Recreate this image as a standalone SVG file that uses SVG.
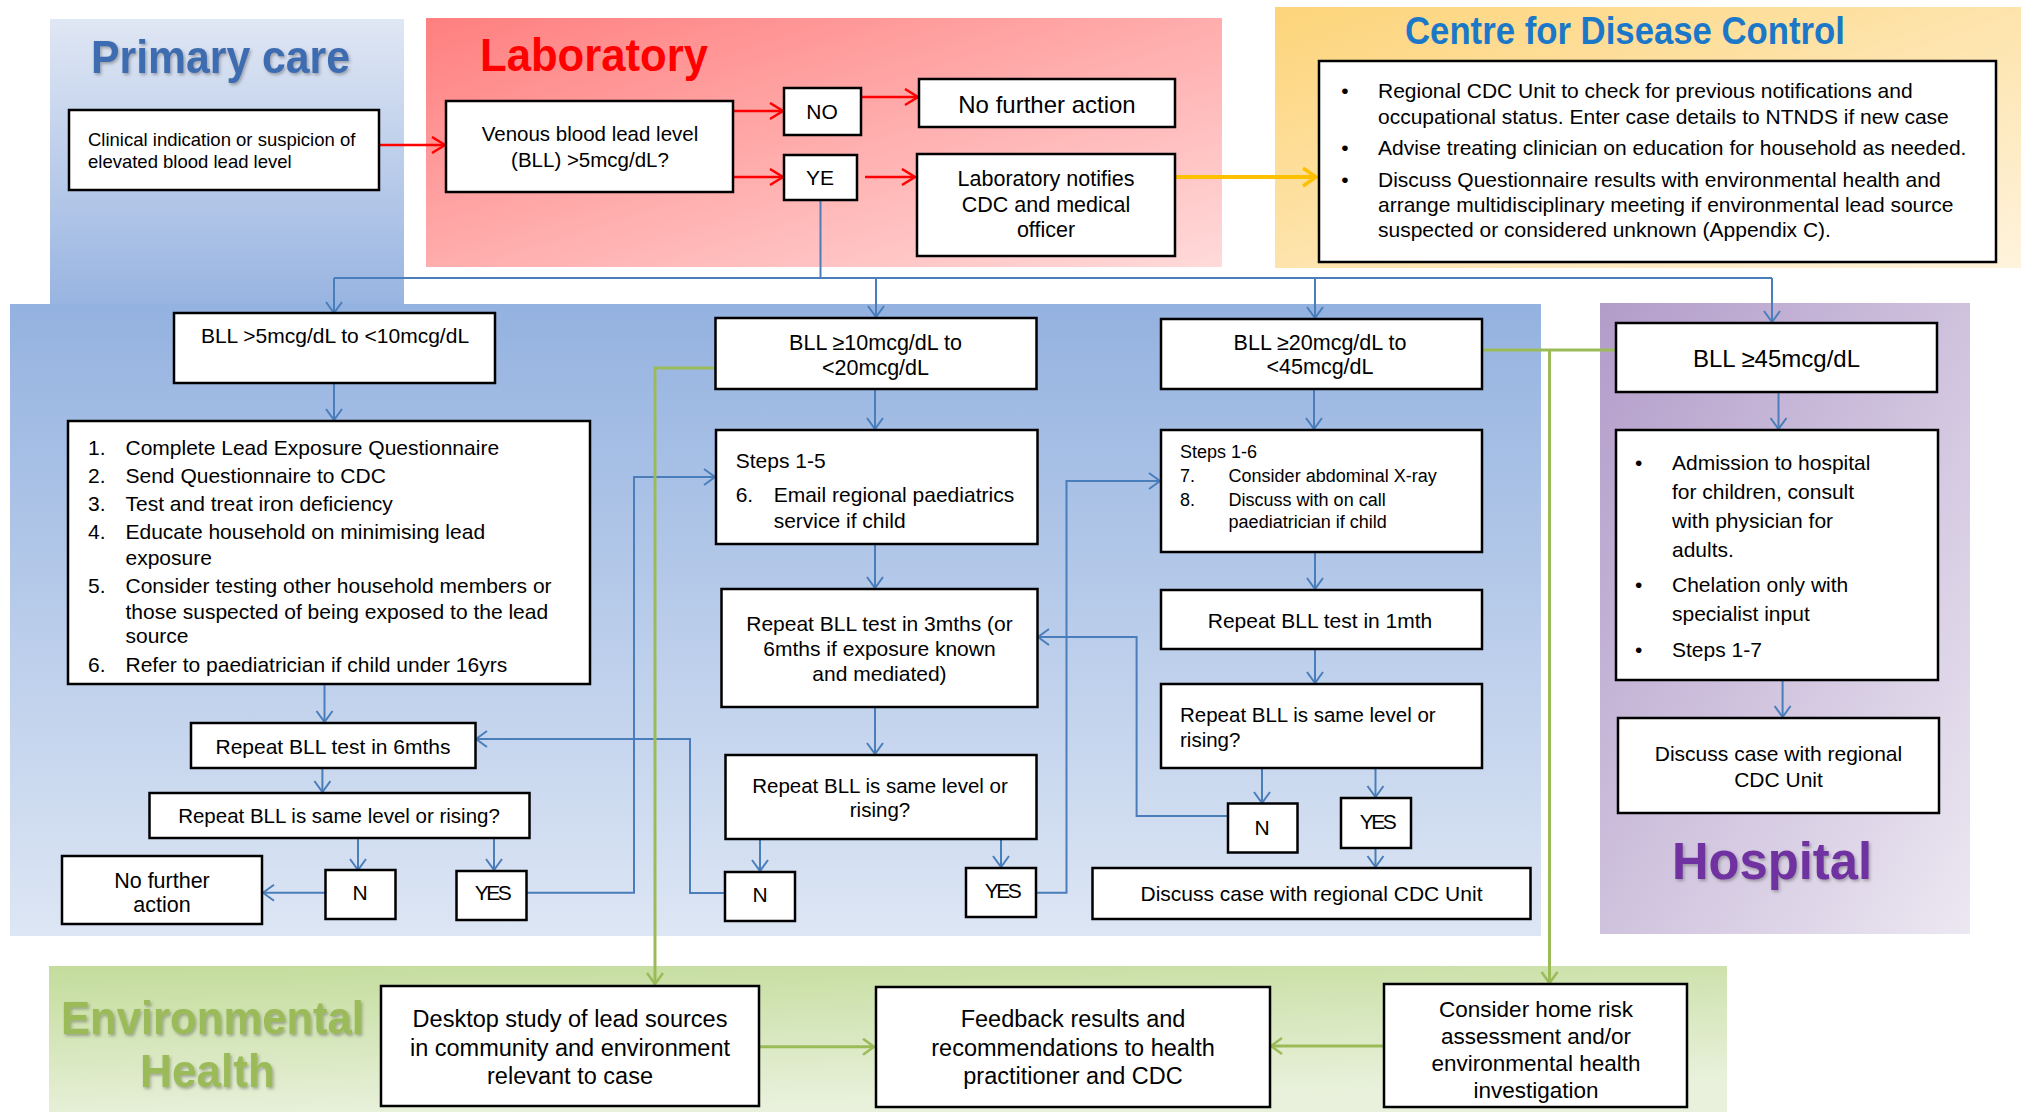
<svg xmlns="http://www.w3.org/2000/svg" width="2025" height="1112" viewBox="0 0 2025 1112">
<defs>
<linearGradient id="gPrim" x1="0" y1="0" x2="0" y2="1"><stop offset="0" stop-color="#e0e7f4"/><stop offset="1" stop-color="#98b4e1"/></linearGradient>
<linearGradient id="gLab" x1="0" y1="0" x2="1" y2="1"><stop offset="0" stop-color="#ff7f7f"/><stop offset="1" stop-color="#ffdada"/></linearGradient>
<linearGradient id="gCdc" x1="0" y1="0" x2="1" y2="1"><stop offset="0" stop-color="#fdd47a"/><stop offset="1" stop-color="#fef3dd"/></linearGradient>
<linearGradient id="gBlue" x1="0" y1="0" x2="0" y2="1"><stop offset="0" stop-color="#94b2e0"/><stop offset="1" stop-color="#dde6f4"/></linearGradient>
<linearGradient id="gHosp" x1="0" y1="0" x2="1" y2="1"><stop offset="0" stop-color="#b29cc9"/><stop offset="1" stop-color="#ece8f2"/></linearGradient>
<linearGradient id="gEnv" x1="0" y1="0" x2="0.3" y2="1"><stop offset="0" stop-color="#c3dc9b"/><stop offset="1" stop-color="#e9f1dc"/></linearGradient>
<filter id="sh" x="-10%" y="-20%" width="120%" height="150%"><feDropShadow dx="1.5" dy="2" stdDeviation="1.5" flood-color="#555" flood-opacity="0.45"/></filter>
<marker id="aB" markerUnits="userSpaceOnUse" markerWidth="16" markerHeight="20" refX="12" refY="9" orient="auto"><path d="M1,1 L12,9 L1,17" fill="none" stroke="#4a7ebb" stroke-width="2"/></marker>
<marker id="aR" markerUnits="userSpaceOnUse" markerWidth="18" markerHeight="20" refX="14" refY="9" orient="auto"><path d="M1,1 L14,9 L1,17" fill="none" stroke="#ff0000" stroke-width="2.5"/></marker>
<marker id="aY" markerUnits="userSpaceOnUse" markerWidth="18" markerHeight="22" refX="14" refY="10" orient="auto"><path d="M1,1 L14,10 L1,19" fill="none" stroke="#ffc000" stroke-width="3.5"/></marker>
<marker id="aG" markerUnits="userSpaceOnUse" markerWidth="16" markerHeight="20" refX="12" refY="9" orient="auto"><path d="M1,1 L12,9 L1,17" fill="none" stroke="#9bbb59" stroke-width="2.5"/></marker>
</defs>
<style>
.box{fill:#fff;stroke:#000;stroke-width:2.5}
text{font-family:"Liberation Sans",Arial,sans-serif;fill:#000}
.c{text-anchor:middle}
.f21{font-size:21px}
.f20{font-size:20.5px}
.f18{font-size:18px}
.f24{font-size:24px}
.ttl{font-weight:bold}
.bl{fill:none;stroke:#4a7ebb;stroke-width:2}
.rd{fill:none;stroke:#ff0000;stroke-width:2.5}
.gr{fill:none;stroke:#9bbb59;stroke-width:3}
.yes{font-size:21px;letter-spacing:-2.5px}
</style>
<rect width="2025" height="1112" fill="#fff"/>
<g id="panels">
<rect x="50" y="19" width="354" height="286" fill="url(#gPrim)"/>
<rect x="426" y="18" width="796" height="249" fill="url(#gLab)"/>
<rect x="1275" y="7" width="746" height="261" fill="url(#gCdc)"/>
<rect x="10" y="304" width="1531" height="632" fill="url(#gBlue)"/>
<rect x="1600" y="303" width="370" height="631" fill="url(#gHosp)"/>
<rect x="49" y="966" width="1678" height="146" fill="url(#gEnv)"/>
<text x="91" y="73" class="ttl" font-size="47" textLength="259" lengthAdjust="spacingAndGlyphs" filter="url(#sh)" style="fill:#3d6cb0">Primary care</text>
<text x="480" y="71" class="ttl" font-size="46" textLength="228" lengthAdjust="spacingAndGlyphs" style="fill:#ff0000">Laboratory</text>
<text x="1405" y="44" class="ttl" font-size="38" textLength="440" lengthAdjust="spacingAndGlyphs" style="fill:#1b78c8">Centre for Disease Control</text>
<text x="1672" y="879" class="ttl" font-size="51" textLength="200" lengthAdjust="spacingAndGlyphs" filter="url(#sh)" style="fill:#7030a0">Hospital</text>
<text x="61" y="1034" class="ttl" font-size="46" textLength="303" lengthAdjust="spacingAndGlyphs" filter="url(#sh)" style="fill:#9bbb59">Environmental</text>
<text x="140" y="1087" class="ttl" font-size="46" textLength="135" lengthAdjust="spacingAndGlyphs" filter="url(#sh)" style="fill:#9bbb59">Health</text>
</g>
<g id="connectors">
<path class="rd" d="M379,145 H445" marker-end="url(#aR)"/>
<path class="rd" d="M733,111 H783" marker-end="url(#aR)"/>
<path class="rd" d="M733,177 H783" marker-end="url(#aR)"/>
<path class="rd" d="M861,97 H918" marker-end="url(#aR)"/>
<path class="rd" d="M865,177 H915" marker-end="url(#aR)"/>
<path d="M1175,177 H1316" fill="none" stroke="#ffc000" stroke-width="4" marker-end="url(#aY)"/>
<path class="bl" d="M820.5,200 V278"/>
<path class="bl" d="M334,278 H1772"/>
<path class="bl" d="M334,278 V313" marker-end="url(#aB)"/>
<path class="bl" d="M876,278 V317" marker-end="url(#aB)"/>
<path class="bl" d="M1315,278 V318" marker-end="url(#aB)"/>
<path class="bl" d="M1772,278 V322" marker-end="url(#aB)"/>
<path class="bl" d="M334,383 V420" marker-end="url(#aB)"/>
<path class="bl" d="M324.5,684 V722" marker-end="url(#aB)"/>
<path class="bl" d="M322.4,768 V792" marker-end="url(#aB)"/>
<path class="bl" d="M358,838 V870" marker-end="url(#aB)"/>
<path class="bl" d="M494,838 V870" marker-end="url(#aB)"/>
<path class="bl" d="M325.5,892.7 H263" marker-end="url(#aB)"/>
<path class="bl" d="M526.5,892.7 H634 V477 H715" marker-end="url(#aB)"/>
<path class="bl" d="M725,893 H690 V739 H476" marker-end="url(#aB)"/>
<path class="bl" d="M875,389 V429" marker-end="url(#aB)"/>
<path class="bl" d="M875,544 V588" marker-end="url(#aB)"/>
<path class="bl" d="M875,706.7 V754" marker-end="url(#aB)"/>
<path class="bl" d="M760,839 V871" marker-end="url(#aB)"/>
<path class="bl" d="M1001,839 V867" marker-end="url(#aB)"/>
<path class="bl" d="M1036,892.7 H1066.5 V481 H1160" marker-end="url(#aB)"/>
<path class="bl" d="M1227,816 H1136.6 V637 H1038" marker-end="url(#aB)"/>
<path class="bl" d="M1314,389 V429" marker-end="url(#aB)"/>
<path class="bl" d="M1315,552 V589" marker-end="url(#aB)"/>
<path class="bl" d="M1315,648.6 V683" marker-end="url(#aB)"/>
<path class="bl" d="M1262,768 V803" marker-end="url(#aB)"/>
<path class="bl" d="M1375.5,768 V797" marker-end="url(#aB)"/>
<path class="bl" d="M1375.5,848 V867" marker-end="url(#aB)"/>
<path class="bl" d="M1778.5,392 V429" marker-end="url(#aB)"/>
<path class="bl" d="M1782.6,680 V717" marker-end="url(#aB)"/>
<path class="gr" d="M715,368 H655 V984" marker-end="url(#aG)"/>
<path class="gr" d="M1482,350 H1616"/>
<path class="gr" d="M1549.5,350 V983" marker-end="url(#aG)"/>
<path class="gr" d="M759,1046.7 H874" marker-end="url(#aG)"/>
<path class="gr" d="M1384,1046 H1271" marker-end="url(#aG)"/>
</g>
<g id="n-clinical"><rect class="box" x="69" y="110" width="310" height="80"/>
<text x="88" y="146" font-size="18.5">Clinical indication or suspicion of</text>
<text x="88" y="168" font-size="18.5">elevated blood lead level</text></g>
<g id="n-venous"><rect class="box" x="446" y="101" width="287" height="91"/>
<text x="590" y="141" class="c f20">Venous blood lead level</text>
<text x="590" y="167" class="c f20">(BLL) &gt;5mcg/dL?</text></g>
<g id="n-no"><rect class="box" x="784" y="88" width="77" height="47"/>
<text x="822" y="119" class="c f21">NO</text></g>
<g id="n-ye"><rect class="box" x="784" y="155" width="73" height="45"/>
<text x="820" y="185" class="c f21">YE</text></g>
<g id="n-nfa-lab"><rect class="box" x="919" y="79" width="256" height="48"/>
<text x="1047" y="113" class="c f24">No further action</text></g>
<g id="n-labnotify"><rect class="box" x="917" y="154" width="258" height="102"/>
<text x="1046" y="186" class="c" font-size="21.5">Laboratory notifies</text>
<text x="1046" y="212" class="c" font-size="21.5">CDC and medical</text>
<text x="1046" y="237" class="c" font-size="21.5">officer</text></g>
<g id="n-cdc"><rect class="box" x="1319" y="61" width="677" height="201"/>
<g class="f21">
<text x="1345" y="98" class="c">•</text><text x="1378" y="98">Regional CDC Unit to check for previous notifications and</text>
<text x="1378" y="124">occupational status. Enter case details to NTNDS if new case</text>
<text x="1345" y="155" class="c">•</text><text x="1378" y="155">Advise treating clinician on education for household as needed.</text>
<text x="1345" y="187" class="c">•</text><text x="1378" y="187">Discuss Questionnaire results with environmental health and</text>
<text x="1378" y="212">arrange multidisciplinary meeting if environmental lead source</text>
<text x="1378" y="237">suspected or considered unknown (Appendix C).</text></g></g>
<g id="n-bll5"><rect class="box" x="174" y="313" width="321" height="70"/>
<text x="335" y="343" class="c f21">BLL &gt;5mcg/dL to &lt;10mcg/dL</text></g>
<g id="n-steps16"><rect class="box" x="68" y="421" width="522" height="263"/>
<g class="f21">
<text x="88" y="455">1.</text><text x="125.5" y="455">Complete Lead Exposure Questionnaire</text>
<text x="88" y="483">2.</text><text x="125.5" y="483">Send Questionnaire to CDC</text>
<text x="88" y="511">3.</text><text x="125.5" y="511">Test and treat iron deficiency</text>
<text x="88" y="539">4.</text><text x="125.5" y="539">Educate household on minimising lead</text>
<text x="125.5" y="565">exposure</text>
<text x="88" y="593">5.</text><text x="125.5" y="593">Consider testing other household members or</text>
<text x="125.5" y="619">those suspected of being exposed to the lead</text>
<text x="125.5" y="643">source</text>
<text x="88" y="672">6.</text><text x="125.5" y="672">Refer to paediatrician if child under 16yrs</text></g></g>
<g id="n-rep6"><rect class="box" x="191" y="723" width="284.5" height="45"/>
<text x="333" y="754" class="c f21">Repeat BLL test in 6mths</text></g>
<g id="n-rise1"><rect class="box" x="149.5" y="793" width="380" height="45"/>
<text x="339" y="823" class="c f20">Repeat BLL is same level or rising?</text></g>
<g id="n-nfa1"><rect class="box" x="62" y="856" width="200" height="68"/>
<text x="162" y="888" class="c" font-size="21.5">No further</text>
<text x="162" y="912" class="c" font-size="21.5">action</text></g>
<g id="n-n1"><rect class="box" x="325.5" y="870" width="70" height="49"/>
<text x="360" y="900" class="c f21">N</text></g>
<g id="n-yes1"><rect class="box" x="456.5" y="871" width="70" height="49"/>
<text x="492" y="900" class="c yes">YES</text></g>
<g id="n-bll10"><rect class="box" x="715.5" y="318" width="321" height="71"/>
<text x="875.5" y="350" class="c" font-size="21.5">BLL ≥10mcg/dL to</text>
<text x="875.5" y="375" class="c" font-size="21.5">&lt;20mcg/dL</text></g>
<g id="n-steps15"><rect class="box" x="716" y="430" width="321.5" height="114"/>
<g class="f21">
<text x="735.7" y="468">Steps 1-5</text>
<text x="735.7" y="502">6.</text><text x="773.7" y="502">Email regional paediatrics</text>
<text x="773.7" y="528">service if child</text></g></g>
<g id="n-rep3"><rect class="box" x="721.5" y="589" width="316" height="118"/>
<text x="879.5" y="631" class="c f21">Repeat BLL test in 3mths (or</text>
<text x="879.5" y="656" class="c f21">6mths if exposure known</text>
<text x="879.5" y="681" class="c f21">and mediated)</text></g>
<g id="n-rise2"><rect class="box" x="725.5" y="755" width="311" height="84"/>
<text x="880" y="793" class="c f20">Repeat BLL is same level or</text>
<text x="880" y="817" class="c f20">rising?</text></g>
<g id="n-n2"><rect class="box" x="725" y="872" width="70" height="49"/>
<text x="760" y="902" class="c f21">N</text></g>
<g id="n-yes2"><rect class="box" x="966" y="868" width="70" height="49"/>
<text x="1002" y="898" class="c yes">YES</text></g>
<g id="n-bll20"><rect class="box" x="1161" y="319" width="321" height="70"/>
<text x="1320" y="350" class="c" font-size="21.5">BLL ≥20mcg/dL to</text>
<text x="1320" y="374" class="c" font-size="21.5">&lt;45mcg/dL</text></g>
<g id="n-steps18"><rect class="box" x="1161" y="430" width="321" height="122"/>
<g class="f18">
<text x="1180" y="457.5">Steps 1-6</text>
<text x="1180" y="481.5">7.</text><text x="1228.6" y="481.5">Consider abdominal X-ray</text>
<text x="1180" y="505.5">8.</text><text x="1228.6" y="505.5">Discuss with on call</text>
<text x="1228.6" y="528">paediatrician if child</text></g></g>
<g id="n-rep1"><rect class="box" x="1161" y="590" width="321" height="59"/>
<text x="1320" y="628" class="c f21">Repeat BLL test in 1mth</text></g>
<g id="n-rise3"><rect class="box" x="1161" y="684" width="321" height="84"/>
<text x="1180" y="722" class="f20">Repeat BLL is same level or</text>
<text x="1180" y="747" class="f20">rising?</text></g>
<g id="n-n3"><rect class="box" x="1228" y="803.5" width="69.5" height="49"/>
<text x="1262" y="835" class="c f21">N</text></g>
<g id="n-yes3"><rect class="box" x="1341" y="798" width="70" height="50"/>
<text x="1377" y="829" class="c yes">YES</text></g>
<g id="n-discuss3"><rect class="box" x="1092.5" y="868" width="438" height="51"/>
<text x="1311.5" y="901" class="c f21">Discuss case with regional CDC Unit</text></g>
<g id="n-bll45"><rect class="box" x="1616" y="323" width="321" height="69"/>
<text x="1776.5" y="367" class="c f24">BLL ≥45mcg/dL</text></g>
<g id="n-hosplist"><rect class="box" x="1616" y="430" width="322" height="250"/>
<g class="f21">
<text x="1638.6" y="470" class="c">•</text><text x="1672" y="470">Admission to hospital</text>
<text x="1672" y="499">for children, consult</text>
<text x="1672" y="528">with physician for</text>
<text x="1672" y="557">adults.</text>
<text x="1638.6" y="592" class="c">•</text><text x="1672" y="592">Chelation only with</text>
<text x="1672" y="621">specialist input</text>
<text x="1638.6" y="657" class="c">•</text><text x="1672" y="657">Steps 1-7</text></g></g>
<g id="n-discussH"><rect class="box" x="1618" y="718" width="321" height="95"/>
<text x="1778.5" y="760.5" class="c f21">Discuss case with regional</text>
<text x="1778.5" y="786.5" class="c f21">CDC Unit</text></g>
<g id="n-desktop"><rect class="box" x="381" y="986" width="378" height="120"/>
<text x="570" y="1027" class="c" font-size="23.5">Desktop study of lead sources</text>
<text x="570" y="1055.5" class="c" font-size="23.5">in community and environment</text>
<text x="570" y="1084" class="c" font-size="23.5">relevant to case</text></g>
<g id="n-feedback"><rect class="box" x="876" y="987" width="394" height="120"/>
<text x="1073" y="1027" class="c" font-size="23.5">Feedback results and</text>
<text x="1073" y="1055.5" class="c" font-size="23.5">recommendations to health</text>
<text x="1073" y="1084" class="c" font-size="23.5">practitioner and CDC</text></g>
<g id="n-homerisk"><rect class="box" x="1384" y="984" width="303" height="123"/>
<text x="1536" y="1017" class="c" font-size="22.5">Consider home risk</text>
<text x="1536" y="1044" class="c" font-size="22.5">assessment and/or</text>
<text x="1536" y="1071" class="c" font-size="22.5">environmental health</text>
<text x="1536" y="1098" class="c" font-size="22.5">investigation</text></g>
</svg>
